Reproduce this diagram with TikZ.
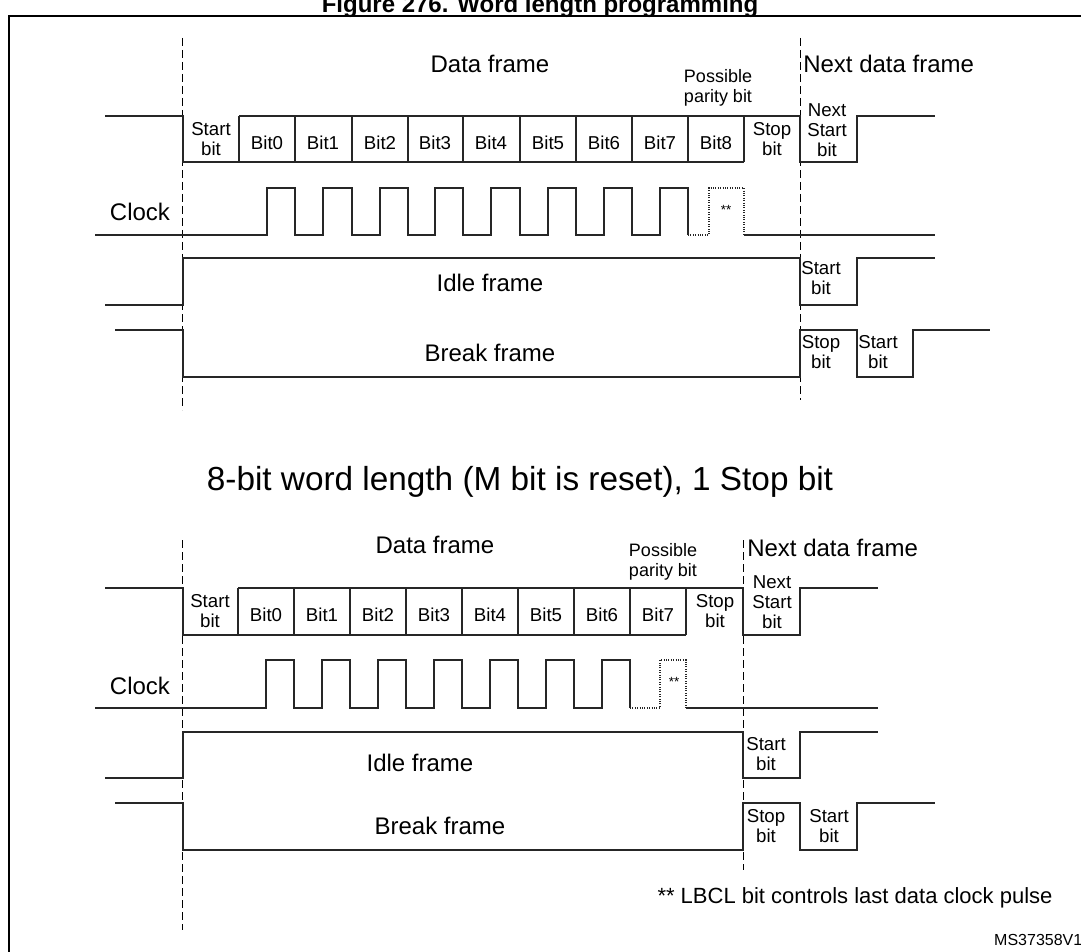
\documentclass[tikz,border=0pt]{standalone}
\usepackage{fontspec}
\setmainfont{Liberation Sans}
\begin{document}
\begin{tikzpicture}[x=0.75pt,y=-0.75pt,
  wave/.style={line width=0.8pt,black!85},
  dot/.style={line width=0.8pt,densely dotted,black!85},
  dsh/.style={line width=0.6pt,dash pattern=on 6pt off 3pt},
  bl/.style={font=\fontsize{14}{15}\selectfont,align=center,inner sep=0pt},
  big/.style={font=\fontsize{18}{20}\selectfont,inner sep=0pt}]
\useasboundingbox (0,0) rectangle (1081,952);
\begin{scope}
\clip (0,0) rectangle (1081,952);
\node[font=\bfseries\fontsize{18}{20}\selectfont] (title) at (540,6) {Figure 276. Word length programming};
\draw[line width=1.2pt] (9,1000) -- (9,16) -- (1100,16);
\node[font=\fontsize{12}{13}\selectfont,anchor=east] (ms) at (1087,940) {MS37358V1};
\end{scope}
% ---------------- TOP ----------------
\draw[dsh] (182,38) -- (182,410);
\draw[dsh] (800,38) -- (800,400);
\node[big] (df1) at (490,64) {Data frame};
\node[bl,font=\fontsize{13.5}{15.5}\selectfont] (pp1) at (718,88) {Possible\\parity bit};
\node[big,anchor=west] (nd1) at (803,64) {Next data frame};
% data row
\draw[wave] (105,116) -- (183,116) -- (183,162) -- (744,162) (239,116) -- (800,116) -- (800,162) -- (857,162) -- (857,116) -- (935,116);
\foreach \x in {239,295,352,408,463,520,576,632,688,744} \draw[wave] (\x,116) -- (\x,162);
\node[bl] (s1) at (211,139) {Start\\bit};
\foreach \i/\x in {0/267,1/323,2/380,3/435,4/491,5/548,6/604,7/660,8/716} \node[bl] (b1\i) at (\x,143) {Bit\i};
\node[bl] (st1) at (772,139) {Stop\\bit};
\node[bl,font=\fontsize{14}{15}\selectfont] (ns1) at (827,130) {Next\\Start\\bit};
% clock
\draw[wave] (95,235) -- (267,235)
  \foreach \r/\f in {267/295,323/352,380/408,435/463,491/520,548/576,604/632,660/688} { -- (\r,235) -- (\r,188) -- (\f,188) -- (\f,235)};
\draw[dot] (688,235) -- (709,235) -- (709,188) -- (744,188) -- (744,235);
\draw[wave] (744,235) -- (935,235);
\node[font=\fontsize{10}{10}\selectfont] (ss1) at (726,210) {**};
\node[big] (ck1) at (140,212) {Clock};
% idle
\draw[wave] (105,305) -- (183,305) -- (183,258) -- (800,258) -- (800,305) -- (857,305) -- (857,258) -- (935,258);
\node[big] (if1) at (490,283) {Idle frame};
\node[bl] (is1) at (821,278) {Start\\bit};
% break
\draw[wave] (115,330) -- (183,330) -- (183,377) -- (800,377) -- (800,330) -- (857,330) -- (857,377) -- (913,377) -- (913,330) -- (990,330);
\node[big] (bf1) at (490,353) {Break frame};
\node[bl] (bs1) at (821,352) {Stop\\bit};
\node[bl] (bt1) at (878,352) {Start\\bit};
% heading
\node[font=\fontsize{25}{27}\selectfont] (head) at (520,482) {8-bit word length (M bit is reset), 1 Stop bit};
% ---------------- BOTTOM ----------------
\draw[dsh] (182,540) -- (182,930);
\draw[dsh] (743,540) -- (743,870);
\node[big] (df2) at (435,545) {Data frame};
\node[bl,font=\fontsize{13.5}{15.5}\selectfont] (pp2) at (663,562) {Possible\\parity bit};
\node[big,anchor=west] (nd2) at (747,548) {Next data frame};
\draw[wave] (105,588) -- (183,588) -- (183,635) -- (686,635) (238,588) -- (743,588) -- (743,635) -- (800,635) -- (800,588) -- (878,588);
\foreach \x in {238,294,350,406,462,518,574,630,686} \draw[wave] (\x,588) -- (\x,635);
\node[bl] (s2) at (210,611) {Start\\bit};
\foreach \i/\x in {0/266,1/322,2/378,3/434,4/490,5/546,6/602,7/658} \node[bl] (b2\i) at (\x,615) {Bit\i};
\node[bl] (st2) at (715,611) {Stop\\bit};
\node[bl,font=\fontsize{14}{15}\selectfont] (ns2) at (772,602) {Next\\Start\\bit};
\draw[wave] (95,708) -- (266,708)
  \foreach \r/\f in {266/294,322/350,378/406,434/462,490/518,546/574,602/630} { -- (\r,708) -- (\r,660) -- (\f,660) -- (\f,708)};
\draw[dot] (630,708) -- (660,708) -- (660,660) -- (686,660) -- (686,708);
\draw[wave] (686,708) -- (878,708);
\node[font=\fontsize{10}{10}\selectfont] (ss2) at (674,682) {**};
\node[big] (ck2) at (140,686) {Clock};
\draw[wave] (105,778) -- (183,778) -- (183,732) -- (743,732) -- (743,778) -- (800,778) -- (800,732) -- (878,732);
\node[big] (if2) at (420,763) {Idle frame};
\node[bl] (is2) at (766,754) {Start\\bit};
\draw[wave] (115,803) -- (183,803) -- (183,850) -- (743,850) -- (743,803) -- (800,803) -- (800,850) -- (857,850) -- (857,803) -- (935,803);
\node[big] (bf2) at (440,826) {Break frame};
\node[bl] (bs2) at (766,826) {Stop\\bit};
\node[bl] (bt2) at (829,826) {Start\\bit};
\node[font=\fontsize{16.5}{18}\selectfont] (fn) at (855,898) {** LBCL bit controls last data clock pulse};
\end{tikzpicture}
\end{document}
